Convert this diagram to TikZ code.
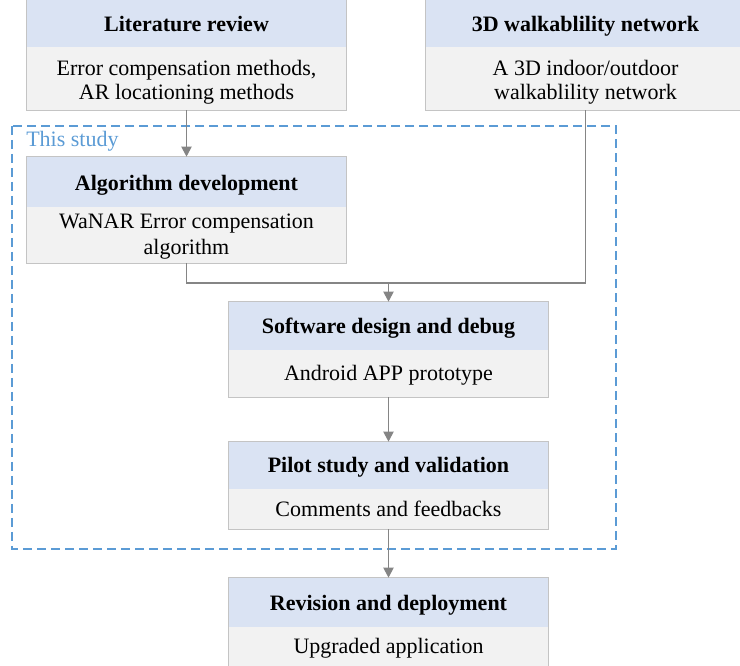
\documentclass[tikz,border=0pt]{standalone}
\usepackage{fontspec}
\setmainfont{Liberation Serif}
\usetikzlibrary{arrows.meta}
\definecolor{hdr}{HTML}{DAE3F3}
\definecolor{bdy}{HTML}{F2F2F2}
\definecolor{brd}{HTML}{C4C4C4}
\definecolor{conn}{HTML}{858585}
\definecolor{studyblue}{HTML}{5B9BD5}
\begin{document}
\begin{tikzpicture}[x=0.75pt,y=-0.75pt,
  hdrbox/.style={fill=hdr, draw=none, minimum width=240pt, minimum height=#1, inner sep=0pt},
  bdybox/.style={fill=bdy, draw=none, minimum width=240pt, minimum height=#1, inner sep=0pt},
  hdrtext/.style={anchor=base, inner sep=0pt, font=\bfseries\fontsize{16.5}{18.75}\selectfont},
  bdytext/.style={anchor=base, inner sep=0pt, font=\fontsize{16.5}{18.75}\selectfont},
  boxborder/.style={draw=brd, line width=0.8pt},
  conline/.style={draw=conn, line width=1.4pt},
  conarrow/.style={conline, -{Triangle[width=7.5pt,length=7.5pt]}},
  studybox/.style={draw=studyblue, line width=1.4pt, dash pattern=on 6.75pt off 3.75pt}
]
\useasboundingbox (0,0) rectangle (740,666);

% dashed study frame
\draw[studybox] (12,126) rectangle (616,549);
\node[anchor=base west, inner sep=0pt, text=studyblue, font=\fontsize{16.5}{18.75}\selectfont] (study) at (26,147) {This study};

% Literature review
\node[hdrbox=35.25pt] (lh) at (186.5,23.5) {};
\node[bdybox=47.25pt] (lb) at (186.5,78.5) {};
\draw[boxborder] (lh.north west) rectangle (lb.south east);
\node[hdrtext] (lht) at (186.5,32) {Literature review};
\node[bdytext] (lbt1) at (186.5,76) {Error compensation methods,};
\node[bdytext] (lbt2) at (186.5,100) {AR locationing methods};

% 3D walkability network
\node[hdrbox=35.25pt] (wh) at (585.5,23.5) {};
\node[bdybox=47.25pt] (wb) at (585.5,78.5) {};
\draw[boxborder] (wh.north west) rectangle (wb.south east);
\node[hdrtext] (wht) at (585.5,32) {3D walkablility network};
\node[bdytext] (wbt1) at (585.5,76) {A 3D indoor/outdoor};
\node[bdytext] (wbt2) at (585.5,100) {walkablility network};

% Algorithm development
\node[hdrbox=37.5pt] (ah) at (186.5,182) {};
\node[bdybox=42pt] (ab) at (186.5,235) {};
\draw[boxborder] (ah.north west) rectangle (ab.south east);
\node[hdrtext] (aht) at (186.5,191) {Algorithm development};
\node[bdytext] (abt1) at (186.5,229) {WaNAR Error compensation};
\node[bdytext] (abt2) at (186.5,255) {algorithm};

% Software design
\node[hdrbox=36pt] (sh) at (388.5,326) {};
\node[bdybox=35.25pt] (sb) at (388.5,373.5) {};
\draw[boxborder] (sh.north west) rectangle (sb.south east);
\node[hdrtext] (sht) at (388.5,334) {Software design and debug};
\node[bdytext] (sbt) at (388.5,381) {Android APP prototype};

% Pilot study
\node[hdrbox=35.25pt] (ph) at (388.5,465.5) {};
\node[bdybox=30pt] (pb) at (388.5,509) {};
\draw[boxborder] (ph.north west) rectangle (pb.south east);
\node[hdrtext] (pht) at (388.5,473) {Pilot study and validation};
\node[bdytext] (pbt) at (388.5,517) {Comments and feedbacks};

% Revision
\node[hdrbox=36.75pt] (rh) at (388.5,602.5) {};
\node[bdybox=30pt] (rb) at (388.5,647) {};
\draw[boxborder] (rh.north west) rectangle (rb.south east);
\node[hdrtext] (rht) at (388.5,611) {Revision and deployment};
\node[bdytext] (rbt) at (388.5,654) {Upgraded application};

% connectors
\coordinate (j) at (388.5,283);
\draw[conarrow] (lb.south) -- (ah.north);
\draw[conline] (ab.south) |- (j);
\draw[conline] (wb.south) |- (j);
\draw[conarrow] (j) -- (sh.north);
\draw[conarrow] (sb.south) -- (ph.north);
\draw[conarrow] (pb.south) -- (rh.north);
\end{tikzpicture}
\end{document}
